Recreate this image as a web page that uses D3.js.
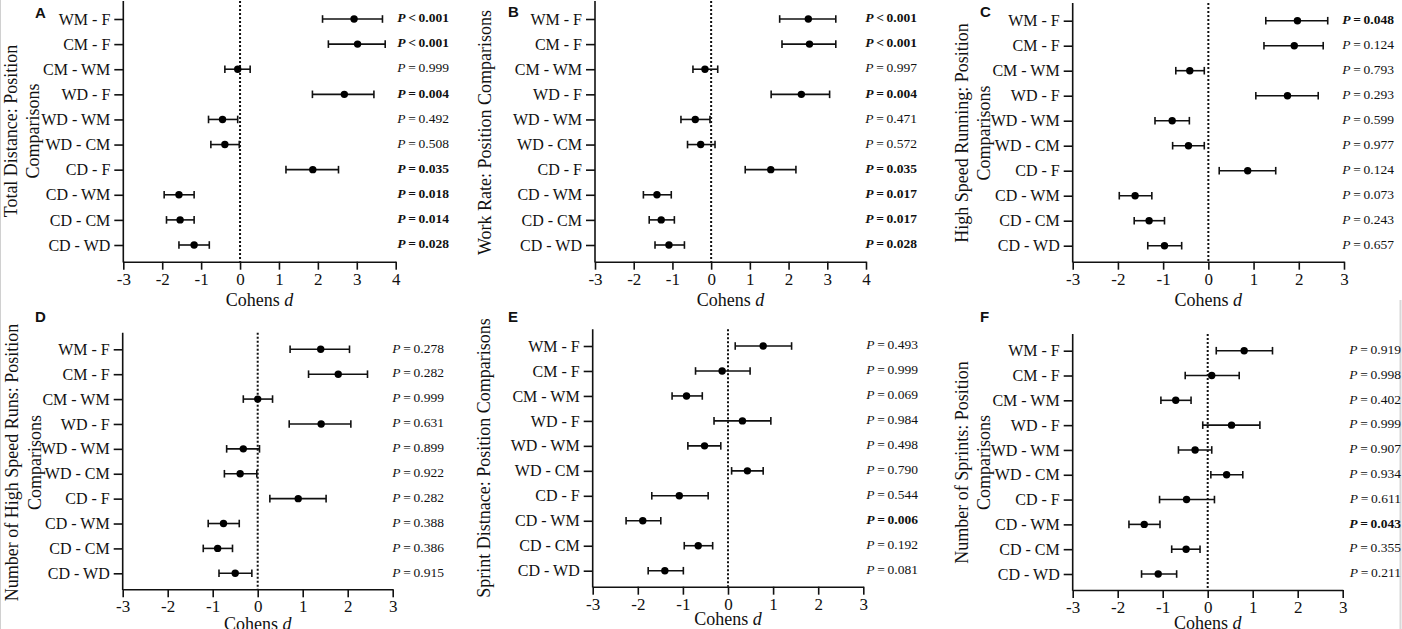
<!DOCTYPE html>
<html>
<head>
<meta charset="utf-8">
<script src="https://cdn.jsdelivr.net/npm/d3@7"></script>
<style>
  body { margin: 0; background: #fff; }
  svg { display: block; }
  svg text { font-family: "Liberation Serif", "Times New Roman", serif; }
  svg text.letter { font-family: "Liberation Sans", Arial, sans-serif; }
</style>
</head>
<body>
<div id="graph"></div>
<script>
// row labels, top to bottom
var comparisons = ["WM - F", "CM - F", "CM - WM", "WD - F", "WD - WM", "WD - CM", "CD - F", "CD - WM", "CD - CM", "CD - WD"];

var ticksWide = [-3, -2, -1, 0, 1, 2, 3, 4];
var ticksNarrow = [-3, -2, -1, 0, 1, 2, 3];

// A - total distance
var tdEffect = [2.93, 3.02, -0.06, 2.68, -0.45, -0.39, 1.87, -1.57, -1.54, -1.18];
var tdLower  = [2.12, 2.27, -0.39, 1.86, -0.81, -0.75, 1.18, -1.95, -1.89, -1.57];
var tdUpper  = [3.66, 3.73, 0.26, 3.44, -0.06, -0.02, 2.53, -1.18, -1.18, -0.79];
var tdP      = ["<0.001", "<0.001", "0.999", "0.004", "0.492", "0.508", "0.035", "0.018", "0.014", "0.028"];

// B - work rate
var wrEffect = [2.51, 2.54, -0.16, 2.33, -0.41, -0.27, 1.54, -1.40, -1.29, -1.09];
var wrLower  = [1.77, 1.83, -0.47, 1.55, -0.78, -0.61, 0.88, -1.75, -1.60, -1.45];
var wrUpper  = [3.22, 3.22, 0.17, 3.06, -0.03, 0.10, 2.19, -1.03, -0.95, -0.69];
var wrP      = ["<0.001", "<0.001", "0.997", "0.004", "0.471", "0.572", "0.035", "0.017", "0.017", "0.028"];

// C - high speed running
var hsrEffect = [1.97, 1.90, -0.41, 1.75, -0.80, -0.44, 0.87, -1.62, -1.31, -0.97];
var hsrLower  = [1.27, 1.23, -0.72, 1.05, -1.18, -0.79, 0.24, -1.97, -1.64, -1.34];
var hsrUpper  = [2.64, 2.54, -0.09, 2.43, -0.42, -0.09, 1.49, -1.25, -0.97, -0.59];
var hsrP      = ["0.048", "0.124", "0.793", "0.293", "0.599", "0.977", "0.124", "0.073", "0.243", "0.657"];

// D - number of high speed runs
var nhsrEffect = [1.40, 1.79, 0.00, 1.41, -0.32, -0.39, 0.90, -0.76, -0.89, -0.50];
var nhsrLower  = [0.72, 1.13, -0.32, 0.70, -0.69, -0.74, 0.27, -1.10, -1.21, -0.86];
var nhsrUpper  = [2.04, 2.44, 0.33, 2.07, 0.04, -0.02, 1.52, -0.41, -0.56, -0.13];
var nhsrP      = ["0.278", "0.282", "0.999", "0.631", "0.899", "0.922", "0.282", "0.388", "0.386", "0.915"];

// E - sprint distance
var sdEffect = [0.78, -0.13, -0.92, 0.32, -0.52, 0.43, -1.08, -1.89, -0.66, -1.40];
var sdLower  = [0.16, -0.72, -1.24, -0.31, -0.89, 0.08, -1.69, -2.26, -0.97, -1.77];
var sdUpper  = [1.41, 0.49, -0.57, 0.95, -0.16, 0.78, -0.44, -1.49, -0.34, -0.99];
var sdP      = ["0.493", "0.999", "0.069", "0.984", "0.498", "0.790", "0.544", "0.006", "0.192", "0.081"];

// F - number of sprints
var nsEffect = [0.81, 0.09, -0.71, 0.53, -0.28, 0.42, -0.47, -1.41, -0.48, -1.10];
var nsLower  = [0.19, -0.50, -1.04, -0.11, -0.65, 0.07, -1.07, -1.75, -0.80, -1.47];
var nsUpper  = [1.44, 0.70, -0.37, 1.16, 0.09, 0.78, 0.15, -1.06, -0.17, -0.69];
var nsP      = ["0.919", "0.998", "0.402", "0.999", "0.907", "0.934", "0.611", "0.043", "0.355", "0.211"];

var panels = [
  { letter: "A", title: ["Total Distance: Position", "Comparisons"], titleX: [10.5, 33], titleY: 131,
    effect: tdEffect, lower: tdLower, upper: tdUpper, p: tdP, ticks: ticksWide,
    left: 123.3, right: 395.7, yTop: 1, yBottom: 261.7, rowTop: 19, rowBottom: 245,
    pRight: 449, letterX: 35, letterY: 18, xTitleY: 306 },
  { letter: "B", title: ["Work Rate: Position Comparisons"], titleX: [485], titleY: 132.5,
    effect: wrEffect, lower: wrLower, upper: wrUpper, p: wrP, ticks: ticksWide,
    left: 595, right: 866, yTop: 1, yBottom: 261.7, rowTop: 19, rowBottom: 245,
    pRight: 917, letterX: 508, letterY: 17, xTitleY: 306 },
  { letter: "C", title: ["High Speed Running: Position", "Comparisons"], titleX: [961.7, 983.3], titleY: 133,
    effect: hsrEffect, lower: hsrLower, upper: hsrUpper, p: hsrP, ticks: ticksNarrow,
    left: 1072.7, right: 1344, yTop: 3, yBottom: 261.7, rowTop: 20.7, rowBottom: 245.7,
    pRight: 1394, letterX: 980, letterY: 17, xTitleY: 306 },
  { letter: "D", title: ["Number of High Speed Runs: Position", "Comparisons"], titleX: [11.7, 35], titleY: 462.5,
    effect: nhsrEffect, lower: nhsrLower, upper: nhsrUpper, p: nhsrP, ticks: ticksNarrow,
    left: 122.7, right: 392.7, yTop: 332.7, yBottom: 589.3, rowTop: 349.3, rowBottom: 573.3,
    pRight: 444, letterX: 35, letterY: 322, xTitleY: 629.5 },
  { letter: "E", title: ["Sprint Distnace: Position Comparisons"], titleX: [483.3], titleY: 458,
    effect: sdEffect, lower: sdLower, upper: sdUpper, p: sdP, ticks: ticksNarrow,
    left: 592.7, right: 863.3, yTop: 329.3, yBottom: 586.7, rowTop: 346, rowBottom: 570.7,
    pRight: 918, letterX: 508, letterY: 322, xTitleY: 624.5 },
  { letter: "F", title: ["Number of Sprints: Position", "Comparisons"], titleX: [961.7, 983.3], titleY: 462.5,
    effect: nsEffect, lower: nsLower, upper: nsUpper, p: nsP, ticks: ticksNarrow,
    left: 1072.7, right: 1342.7, yTop: 334, yBottom: 590, rowTop: 350.7, rowBottom: 574,
    pRight: 1401, letterX: 980, letterY: 322, xTitleY: 629 }
];

var svg = d3.select("#graph").append("svg")
    .attr("width", 1402)
    .attr("height", 629)
    .style("background", "#fff");

// faint scan borders at the page edges
svg.append("line")
    .attr("x1", 0.5).attr("x2", 0.5).attr("y1", 0).attr("y2", 629)
    .style("stroke", "#d0d0d0").style("stroke-width", 1);
svg.append("line")
    .attr("x1", 1400.5).attr("x2", 1400.5).attr("y1", 300).attr("y2", 629)
    .style("stroke", "#d8d8d8").style("stroke-width", 2);

function drawPanel(p) {
    var g = svg.append("g");

    var x = d3.scaleLinear()
        .domain([p.ticks[0], p.ticks[p.ticks.length - 1]])
        .range([p.left, p.right]);

    var y = d3.scalePoint()
        .domain(comparisons)
        .range([p.rowTop, p.rowBottom]);

    var rows = comparisons.map(function(c, i) {
        return { name: c, d: p.effect[i], lo: p.lower[i], hi: p.upper[i], p: p.p[i] };
    });

    // x axis
    var xa = g.append("g")
        .attr("transform", "translate(0," + p.yBottom + ")")
        .call(d3.axisBottom(x).tickValues(p.ticks).tickSize(8).tickSizeOuter(0).tickPadding(3)
              .tickFormat(function(d) { return String(d); }))
        .attr("font-family", null)
        .attr("font-size", null);
    xa.selectAll("path, line").style("stroke", "#111").style("stroke-width", 1.6);
    xa.selectAll("text")
        .style("font-size", "17px")
        .style("fill", "#111");

    // y axis
    var ya = g.append("g")
        .attr("transform", "translate(" + p.left + ",0)")
        .call(d3.axisLeft(y).tickSize(9).tickPadding(4))
        .attr("font-family", null)
        .attr("font-size", null);
    ya.select(".domain").remove();
    ya.selectAll("line").style("stroke", "#111").style("stroke-width", 1.6);
    ya.selectAll("text")
        .style("font-size", "16px")
        .style("fill", "#111");
    g.append("line")
        .attr("x1", p.left).attr("x2", p.left)
        .attr("y1", p.yTop).attr("y2", p.yBottom + 0.8)
        .style("stroke", "#111").style("stroke-width", 1.6);

    // zero reference
    g.append("line")
        .attr("x1", x(0)).attr("x2", x(0))
        .attr("y1", p.yTop).attr("y2", p.yBottom)
        .style("stroke", "#111")
        .style("stroke-width", 2)
        .style("stroke-dasharray", "2,2");

    // error bars
    var bars = g.selectAll(".bar").data(rows).enter().append("g").attr("class", "bar");
    bars.append("line")
        .attr("x1", function(d) { return x(d.lo); })
        .attr("x2", function(d) { return x(d.hi); })
        .attr("y1", function(d) { return y(d.name); })
        .attr("y2", function(d) { return y(d.name); })
        .style("stroke", "#111").style("stroke-width", 1.6);
    bars.append("line")
        .attr("x1", function(d) { return x(d.lo); })
        .attr("x2", function(d) { return x(d.lo); })
        .attr("y1", function(d) { return y(d.name) - 3.8; })
        .attr("y2", function(d) { return y(d.name) + 3.8; })
        .style("stroke", "#111").style("stroke-width", 1.6);
    bars.append("line")
        .attr("x1", function(d) { return x(d.hi); })
        .attr("x2", function(d) { return x(d.hi); })
        .attr("y1", function(d) { return y(d.name) - 3.8; })
        .attr("y2", function(d) { return y(d.name) + 3.8; })
        .style("stroke", "#111").style("stroke-width", 1.6);
    bars.append("circle")
        .attr("cx", function(d) { return x(d.d); })
        .attr("cy", function(d) { return y(d.name); })
        .attr("r", 3.7)
        .style("fill", "#000");

    // p values
    var pt = g.selectAll(".pval").data(rows).enter().append("text")
        .attr("class", "pval")
        .attr("x", p.pRight)
        .attr("y", function(d) { return y(d.name) - 1.5; })
        .attr("dy", "0.35em")
        .attr("text-anchor", "end")
        .style("font-size", "13.5px")
        .style("fill", "#111")
        .style("font-weight", function(d) {
            var sig = d.p.charAt(0) === "<" || +d.p < 0.05;
            return sig ? "bold" : "normal";
        });
    pt.append("tspan").style("font-style", "italic").text("P");
    pt.append("tspan").text(function(d) {
        if (d.p.charAt(0) === "<") return "\u2009<\u2009" + d.p.slice(1);
        return "\u2009=\u2009" + d.p;
    });

    // x title
    var xt = g.append("text")
        .attr("x", (p.left + p.right) / 2)
        .attr("y", p.xTitleY)
        .attr("text-anchor", "middle")
        .style("font-size", "18px")
        .style("fill", "#111");
    xt.append("tspan").text("Cohens ");
    xt.append("tspan").style("font-style", "italic").text("d");

    // y title
    p.title.forEach(function(line, i) {
        g.append("text")
            .attr("transform", "translate(" + p.titleX[i] + "," + p.titleY + ") rotate(-90)")
            .attr("dy", "0.35em")
            .attr("text-anchor", "middle")
            .style("font-size", "18px")
            .style("fill", "#111")
            .text(line);
    });

    // panel letter
    g.append("text")
        .attr("class", "letter")
        .attr("x", p.letterX)
        .attr("y", p.letterY)
        .style("font-weight", "bold")
        .style("font-size", "15px")
        .style("fill", "#111")
        .text(p.letter);
}

panels.forEach(drawPanel);
</script>
</body>
</html>
